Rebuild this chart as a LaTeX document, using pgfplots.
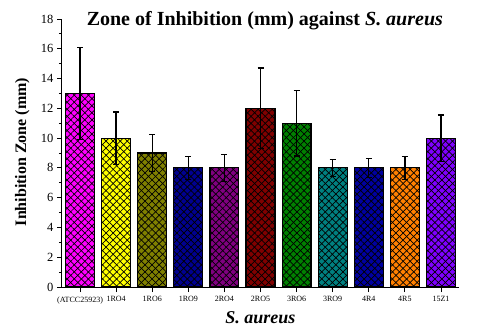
\documentclass[border=0pt]{standalone}
\usepackage{fontspec}
\setmainfont{Liberation Serif}
\usepackage{pgfplots}
\pgfplotsset{compat=1.18}
\usetikzlibrary{patterns.meta}
\definecolor{c1}{HTML}{FF00FF}
\definecolor{c2}{HTML}{FFFF00}
\definecolor{c3}{HTML}{808000}
\definecolor{c4}{HTML}{000090}
\definecolor{c5}{HTML}{800080}
\definecolor{c6}{HTML}{800000}
\definecolor{c7}{HTML}{008000}
\definecolor{c8}{HTML}{008080}
\definecolor{c9}{HTML}{0000A0}
\definecolor{c10}{HTML}{FF8000}
\definecolor{c11}{HTML}{8000FF}
\pgfplotsset{
  mybar/.style={fill=#1, draw=black, line width=1.2pt,
    postaction={pattern={Lines[angle=45,distance=5pt,line width=0.7pt]},pattern color=black},
    postaction={pattern={Lines[angle=-45,distance=5pt,line width=0.7pt]},pattern color=black},
    error bars/.cd, y dir=both, y explicit,
    error bar style={line width=1.3pt,black,solid},
    error mark options={rotate=90,mark size=3pt,line width=1.3pt,black}}
}
\begin{document}
\begin{tikzpicture}
\begin{axis}[
  at={(0pt,0pt)}, anchor=south west,
  scale only axis, width=397pt, height=268pt,
  ybar, bar width=0.8, bar shift=0pt,
  xmin=-0.5, xmax=10.5, ymin=0, ymax=18,
  axis x line*=bottom, axis y line*=left,
  axis line style={line width=1pt, -},
  tick align=outside, tick style={black, line width=0.9pt},
  major tick length=5pt, minor tick length=3pt,
  xtick={0,...,10},
  xticklabels={(ATCC25923),1RO4,1RO6,1RO9,2RO4,2RO5,3RO6,3RO9,4R4,4R5,15Z1},
  xticklabel style={font=\fontsize{8}{8}\selectfont, yshift=-1pt},
  ytick={0,2,...,18}, minor y tick num=1,
  yticklabel style={font=\fontsize{12.5}{12.5}\selectfont},
  /pgf/number format/assume math mode=true,
  title={\textbf{Zone of Inhibition (mm) against \textit{S. aureus}}},
  title style={font=\fontsize{20}{20}\selectfont, at={(axis description cs:0.511,0.97)}, anchor=center, yshift=0pt},
  ylabel={\textbf{Inhibition Zone (mm)}},
  ylabel style={font=\fontsize{16}{16}\selectfont, at={(axis description cs:-0.1,0.504)}, anchor=center},
  xlabel={\textbf{\textit{S. aureus}}},
  xlabel style={font=\fontsize{18}{18}\selectfont, at={(axis description cs:0.5,-0.1157)}, anchor=center},
]
\addplot[mybar=c1] coordinates {(0,13) +- (0,3.1)};
\addplot[mybar=c2] coordinates {(1,10) +- (0,1.75)};
\addplot[mybar=c3] coordinates {(2,9) +- (0,1.25)};
\addplot[mybar=c4] coordinates {(3,8) +- (0,0.77)};
\addplot[mybar=c5] coordinates {(4,8) +- (0,0.9)};
\addplot[mybar=c6] coordinates {(5,12) +- (0,2.7)};
\addplot[mybar=c7] coordinates {(6,11) +- (0,2.2)};
\addplot[mybar=c8] coordinates {(7,8) +- (0,0.57)};
\addplot[mybar=c9] coordinates {(8,8) +- (0,0.64)};
\addplot[mybar=c10] coordinates {(9,8) +- (0,0.77)};
\addplot[mybar=c11] coordinates {(10,10) +- (0,1.55)};
\end{axis}
\pgfresetboundingbox
\useasboundingbox (-62pt,-45pt) rectangle (417pt,287pt);
\end{tikzpicture}
\end{document}
